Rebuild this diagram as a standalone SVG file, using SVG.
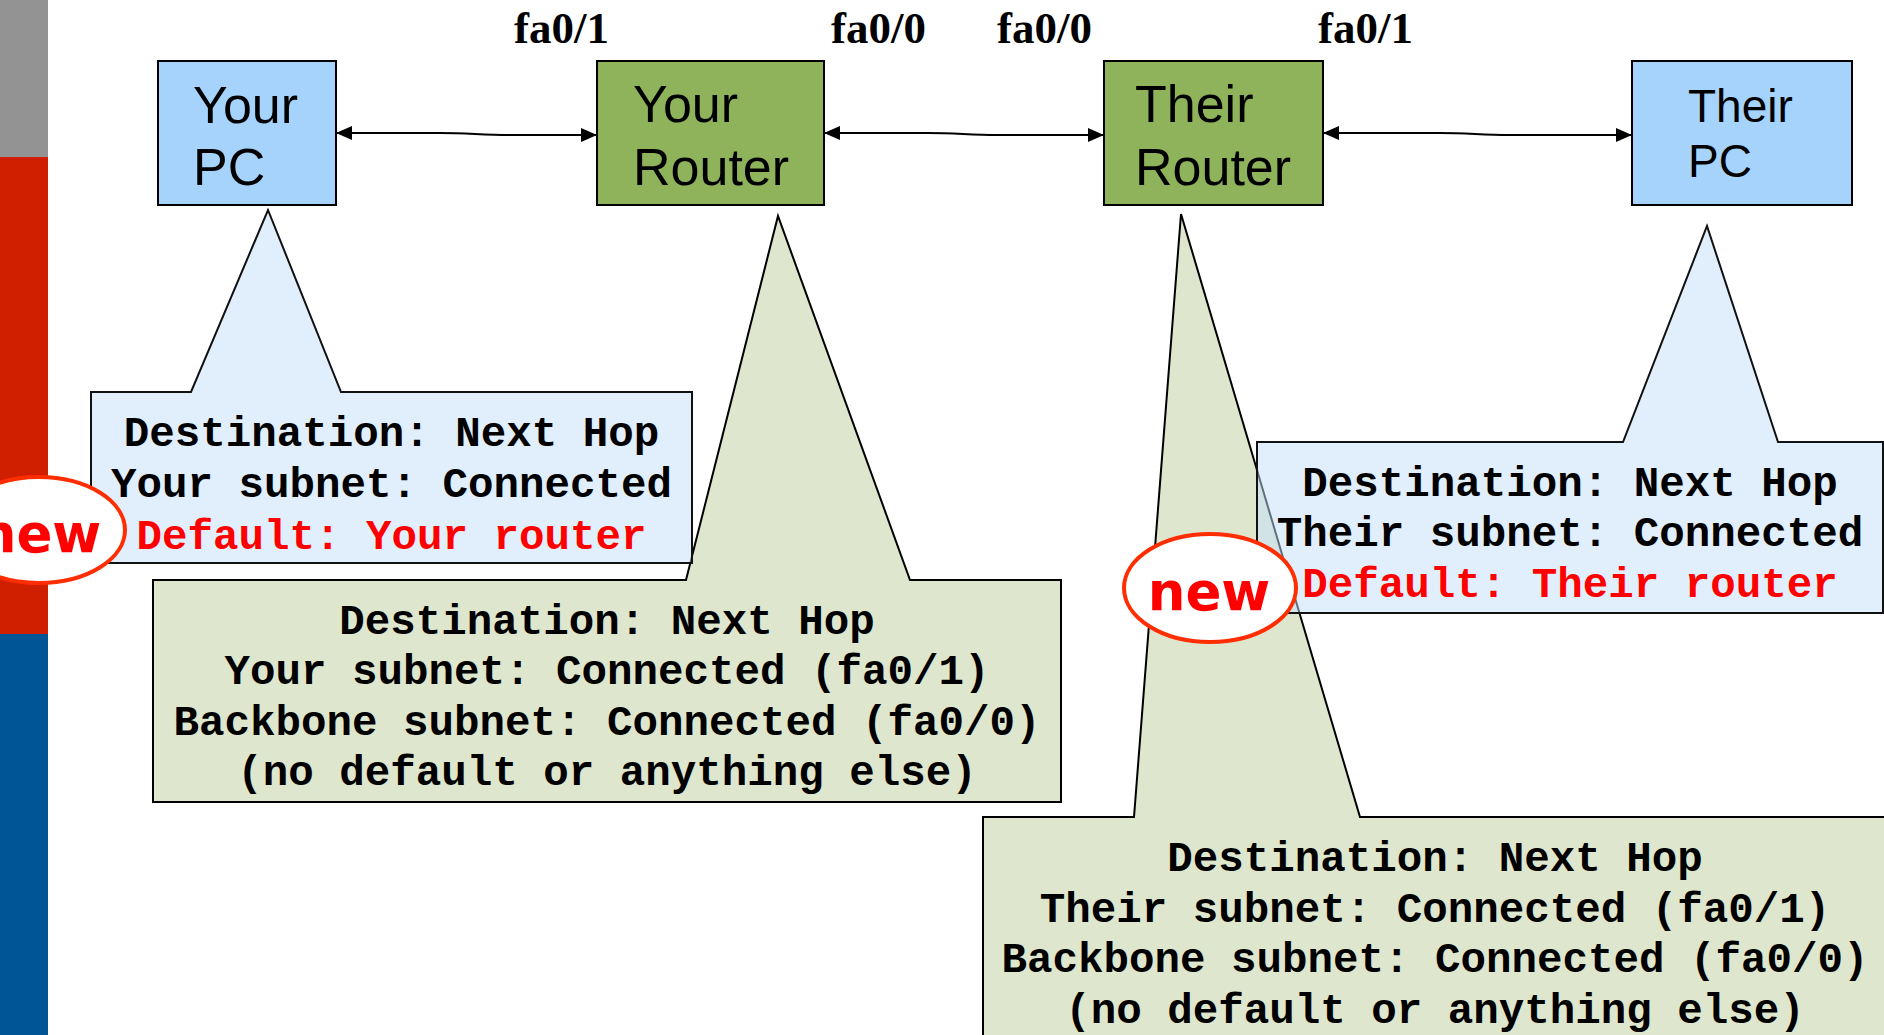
<svg xmlns="http://www.w3.org/2000/svg" width="1884" height="1035" viewBox="0 0 1884 1035">
  <style>
    .node { stroke: #000; stroke-width: 2; }
    .pc { fill: #a6d3fc; }
    .router { fill: #8eb35b; }
    .label { font-family: "Liberation Sans", Arial, sans-serif; font-size: 52px; fill: #000; }
    .port { font-family: "Liberation Serif", "Times New Roman", serif; font-weight: bold; font-size: 45px; fill: #000; }
    .link { fill: none; stroke: #000; stroke-width: 2; }
    .tip-green { fill: #dee7ce; stroke: #000; stroke-width: 2; stroke-linejoin: miter; }
    .tip-blue { fill: #c3dffb; fill-opacity: 0.5; stroke: #111; stroke-width: 2; }
    .table { font-family: "Liberation Mono", "Courier New", monospace; font-weight: bold; font-size: 42.5px; fill: #000; text-anchor: middle; white-space: pre; }
    .red { fill: #ff0000; }
    .badge { fill: #fff; stroke: #ff2d00; stroke-width: 4; }
    .badge-text { font-family: "DejaVu Sans", Verdana, sans-serif; font-weight: bold; font-size: 53px; fill: #ff0000; text-anchor: middle; }
  </style>
  <defs>
    <marker id="arrow" viewBox="0 0 16 14" refX="16" refY="7" markerWidth="16" markerHeight="14" markerUnits="userSpaceOnUse" orient="auto-start-reverse">
      <path d="M0,0 L16,7 L0,14 Z" fill="#000"/>
    </marker>
  </defs>

  <rect width="1884" height="1035" fill="#fff"/>

  <!-- side band -->
  <g id="side-band">
    <rect x="0" y="0" width="48" height="157" fill="#939393"/>
    <rect x="0" y="157" width="48" height="477" fill="#d01f00"/>
    <rect x="0" y="634" width="48" height="401" fill="#005596"/>
  </g>

  <!-- interface labels -->
  <g id="port-labels">
    <text class="port" x="514" y="43">fa0/1</text>
    <text class="port" x="831" y="43">fa0/0</text>
    <text class="port" x="997" y="43">fa0/0</text>
    <text class="port" x="1318" y="43">fa0/1</text>
  </g>

  <!-- links between devices -->
  <g id="connectors">
    <path class="link" d="M336,133 L440,133 C470,133 480,135 510,135 L597,135" marker-start="url(#arrow)" marker-end="url(#arrow)"/>
    <path class="link" d="M824,133 L928,133 C958,133 968,135 998,135 L1104,135" marker-start="url(#arrow)" marker-end="url(#arrow)"/>
    <path class="link" d="M1323,133 L1440,133 C1470,133 1480,135 1510,135 L1632,135" marker-start="url(#arrow)" marker-end="url(#arrow)"/>
  </g>

  <!-- devices -->
  <g id="your-pc">
    <rect class="node pc" x="158" y="61" width="178" height="144"/>
    <text class="label" x="193" y="123">Your</text>
    <text class="label" x="193" y="185">PC</text>
  </g>
  <g id="your-router">
    <rect class="node router" x="597" y="61" width="227" height="144"/>
    <text class="label" x="633" y="122">Your</text>
    <text class="label" x="633" y="185">Router</text>
  </g>
  <g id="their-router">
    <rect class="node router" x="1104" y="61" width="219" height="144"/>
    <text class="label" x="1135" y="122">Their</text>
    <text class="label" x="1135" y="185">Router</text>
  </g>
  <g id="their-pc">
    <rect class="node pc" x="1632" y="61" width="220" height="144"/>
    <text class="label" x="1688" y="122" style="font-size:46px">Their</text>
    <text class="label" x="1688" y="177" style="font-size:46px">PC</text>
  </g>

  <!-- routing table of the local router -->
  <g id="your-router-table">
    <path class="tip-green" d="M153,580 L686,580 L778,216 L910,580 L1061,580 L1061,802 L153,802 Z"/>
    <text class="table" x="607" y="634">Destination: Next Hop</text>
    <text class="table" x="607" y="684">Your subnet: Connected (fa0/1)</text>
    <text class="table" x="607" y="735">Backbone subnet: Connected (fa0/0)</text>
    <text class="table" x="607" y="785">(no default or anything else)</text>
  </g>

  <!-- routing table of the remote router -->
  <g id="their-router-table">
    <path class="tip-green" d="M983,817 L1134,817 L1181,214 L1360,817 L1890,817 L1890,1045 L983,1045 Z"/>
    <text class="table" x="1435" y="871">Destination: Next Hop</text>
    <text class="table" x="1435" y="922">Their subnet: Connected (fa0/1)</text>
    <text class="table" x="1435" y="972">Backbone subnet: Connected (fa0/0)</text>
    <text class="table" x="1435" y="1023">(no default or anything else)</text>
  </g>

  <!-- routing table of the local PC -->
  <g id="your-pc-table">
    <path class="tip-blue" d="M91,392 L191,392 L268,210 L341,392 L692,392 L692,563 L91,563 Z"/>
    <text class="table" x="391.5" y="446">Destination: Next Hop</text>
    <text class="table" x="391.5" y="497">Your subnet: Connected</text>
    <text class="table red" x="391.5" y="549">Default: Your router</text>
  </g>

  <!-- routing table of the remote PC -->
  <g id="their-pc-table">
    <path class="tip-blue" d="M1257,442 L1623,442 L1707,226 L1778,442 L1883,442 L1883,613 L1257,613 Z"/>
    <text class="table" x="1570" y="496">Destination: Next Hop</text>
    <text class="table" x="1570" y="546">Their subnet: Connected</text>
    <text class="table red" x="1570" y="597">Default: Their router</text>
  </g>

  <!-- "new" badges -->
  <g id="badge-left">
    <ellipse class="badge" cx="39" cy="530" rx="86" ry="53"/>
    <text class="badge-text" x="40" y="552">new</text>
  </g>
  <g id="badge-right">
    <ellipse class="badge" cx="1210" cy="588" rx="86" ry="54"/>
    <text class="badge-text" x="1209" y="610">new</text>
  </g>
</svg>
